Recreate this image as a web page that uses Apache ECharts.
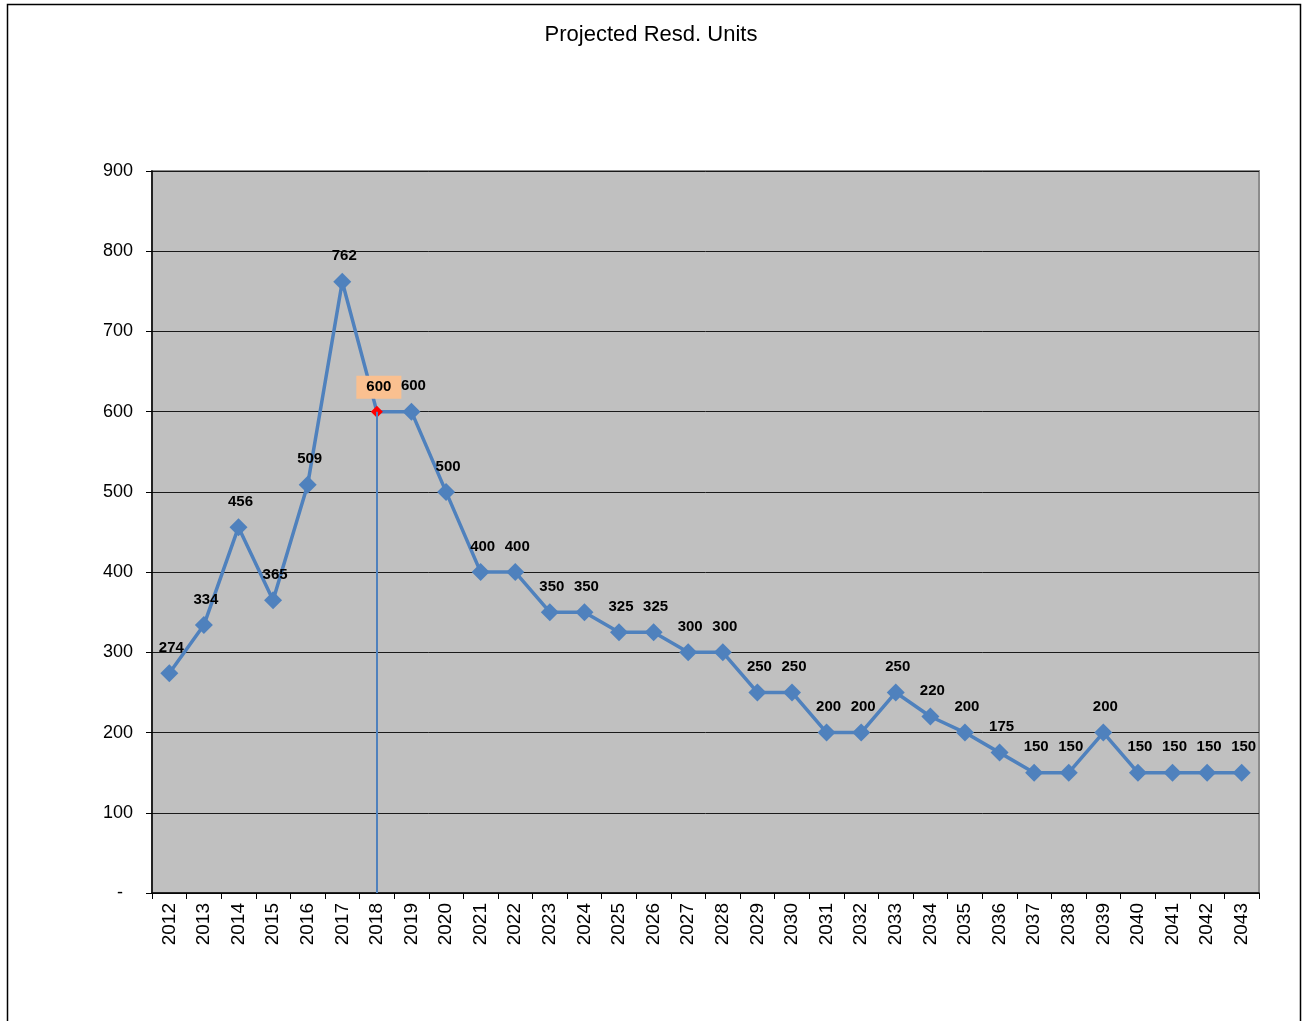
<!DOCTYPE html>
<html>
<head>
<meta charset="utf-8">
<script src="https://cdn.jsdelivr.net/npm/echarts@6/dist/echarts.min.js"></script>
<style>html,body{margin:0;padding:0;background:#fff;}#c{width:1302px;height:1021px;}</style>
</head>
<body>
<div id="c"></div>
<script>
const years = ['2012','2013','2014','2015','2016','2017','2018','2019','2020','2021','2022','2023','2024','2025','2026','2027','2028','2029','2030','2031','2032','2033','2034','2035','2036','2037','2038','2039','2040','2041','2042','2043'];
const units = [274,334,456,365,509,762,600,600,500,400,400,350,350,325,325,300,300,250,250,200,200,250,220,200,175,150,150,200,150,150,150,150];
const highlightYear = '2018';
const yTicks = [0,100,200,300,400,500,600,700,800,900];

const chart = echarts.init(document.getElementById('c'), null, {renderer:'canvas'});
const FONT = '"Liberation Sans", Arial, sans-serif';
const BLUE = '#4F81BD';

const seriesData = units.map((v,i)=>{
  if (years[i] === highlightYear) {
    return {
      value: v,
      symbolSize: 12,
      itemStyle: {color:'#FF0000'},
      label: {backgroundColor:'#FAC090', padding:[4,10,4,10], offset:[2,2]}
    };
  }
  return v;
});

chart.setOption({
  animation:false,
  backgroundColor:'#ffffff',
  title:{
    text:'Projected Resd. Units',
    left:'center', top:19,
    textStyle:{fontFamily:FONT, fontSize:22, fontWeight:'normal', color:'#000'}
  },
  graphic:[{
    type:'rect', silent:true,
    shape:{x:7.5, y:4.5, width:1293, height:1030},
    style:{fill:'none', stroke:'#000', lineWidth:1.5}
  }],
  grid:{left:152, top:171, width:1107, height:722, show:true, backgroundColor:'#C0C0C0', borderColor:'#8C8C8C', borderWidth:2},
  xAxis:{
    type:'category', data:years, boundaryGap:true,
    axisLine:{show:true, lineStyle:{color:'#000', width:1.5}},
    axisTick:{show:true, alignWithLabel:false, length:6, lineStyle:{color:'#000'}},
    axisLabel:{rotate:90, margin:10, fontFamily:FONT, fontSize:19, color:'#000', interval:0}
  },
  yAxis:{
    type:'value', min:yTicks[0], max:yTicks[yTicks.length-1], interval:100,
    axisLine:{show:true, lineStyle:{color:'#000', width:1.5}},
    axisTick:{show:true, length:6, lineStyle:{color:'#000'}},
    splitLine:{show:true, lineStyle:{color:'#1a1a1a', width:1}},
    axisLabel:{margin:19, fontFamily:FONT, fontSize:18, color:'#000',
      formatter:function(v){ return v===0 ? '-  ' : String(v); }}
  },
  series:[{
    type:'line', data:seriesData,
    lineStyle:{color:BLUE, width:3.5},
    itemStyle:{color:BLUE},
    symbol:'diamond', symbolSize:18,
    label:{show:true, position:'top', distance:9, offset:[2,0], fontFamily:FONT, fontSize:15, fontWeight:'bold', color:'#000'},
    markLine:{
      silent:true, symbol:'none', animation:false,
      label:{show:false},
      lineStyle:{color:BLUE, width:2, type:'solid'},
      data:[[{coord:[highlightYear, units[years.indexOf(highlightYear)]]},{coord:[highlightYear, 0]}]]
    },
    z:3
  }]
});
</script>
</body>
</html>
